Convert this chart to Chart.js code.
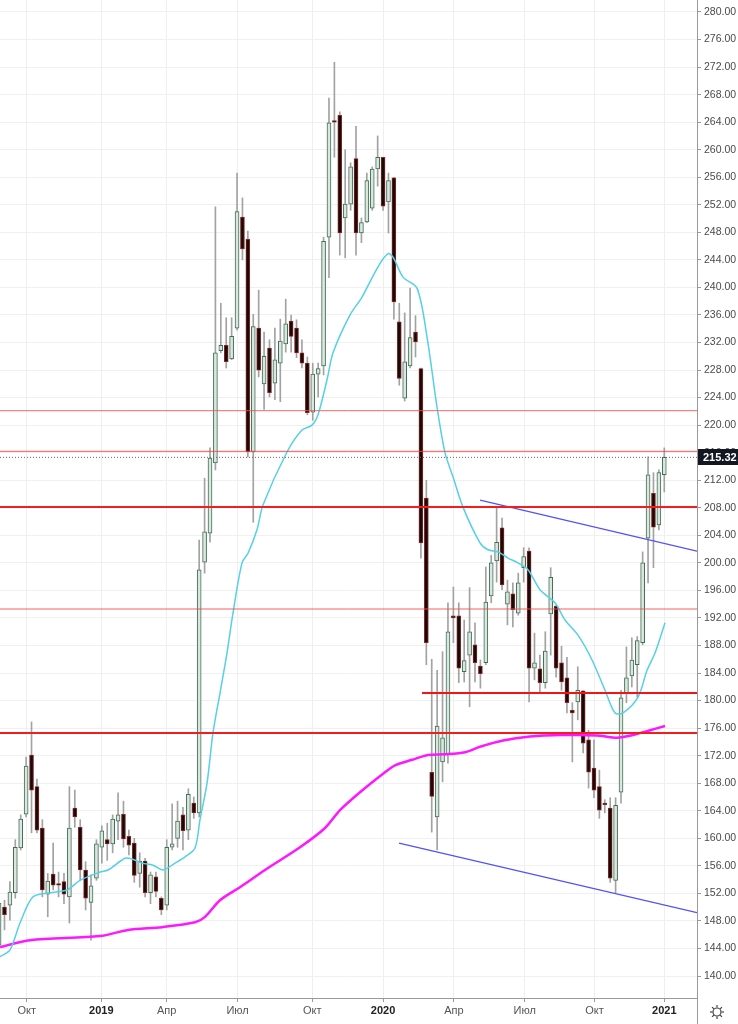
<!DOCTYPE html>
<html><head><meta charset="utf-8">
<script src="https://cdn.jsdelivr.net/npm/chart.js@4.4.1/dist/chart.umd.min.js"></script>
<style>html,body{margin:0;padding:0;background:#fff;overflow:hidden}canvas{display:block}</style>
</head><body>
<canvas id="c" width="738" height="1024"></canvas>
<script>
// Weekly candles, index 0 = first (partially visible) week
const opens = [144.5,150.0,150.3,152.1,158.6,163.5,172.1,167.5,161.5,151.9,
154.8,153.4,153.7,151.5,164.4,161.6,155.4,150.7,154.2,158.7,
159.8,159.2,162.5,163.5,160.3,159.3,154.9,156.7,152.1,154.4,
151.3,150.3,158.7,160.0,163.4,161.2,165.1,163.7,200.1,204.3,
214.5,230.8,231.6,229.6,234.1,250.2,247.0,216.1,234.1,226.0,
231.2,226.1,229.0,231.8,235.1,234.1,230.5,229.0,221.9,227.4,
228.6,247.3,264.2,265.0,250.1,252.1,258.7,247.9,249.5,251.5,
257.2,258.9,252.4,255.9,235.0,223.9,228.6,233.5,228.2,209.4,
169.6,163.1,171.1,172.1,192.3,192.3,184.2,186.6,188.1,185.0,
185.5,195.2,200.3,205.1,194.0,195.5,192.7,199.3,201.7,184.7,
184.6,182.6,192.6,193.7,185.5,183.3,178.6,179.8,181.4,174.3,
170.2,167.5,165.1,164.4,153.9,166.7,181.1,183.6,185.2,188.4,
203.6,210.1,205.5,212.8];
const closes = [150.6,148.9,152.2,158.7,162.8,170.5,167.0,161.2,152.5,153.8,
153.2,153.2,151.9,161.5,163.1,155.4,151.3,153.1,159.2,161.1,
159.2,162.8,163.4,159.9,159.0,154.6,156.7,152.1,154.7,152.3,
149.6,158.7,159.2,162.5,161.1,166.4,163.7,199.0,204.5,215.2,
230.5,231.6,229.2,232.9,251.0,245.6,216.1,234.3,228.0,230.0,
224.7,229.5,232.2,234.7,232.9,230.5,229.0,221.8,227.4,228.2,
246.7,263.9,264.0,247.9,252.1,257.5,247.9,249.4,255.5,257.2,
258.9,251.8,255.5,237.9,226.8,229.2,232.7,232.1,202.9,188.4,
166.1,176.3,174.6,190.0,192.0,184.7,185.8,190.0,185.5,183.9,
194.3,200.0,203.0,196.8,195.8,193.2,197.1,200.9,184.7,185.5,
182.6,187.2,197.9,184.7,182.7,179.7,178.2,181.5,173.8,169.6,
167.0,164.1,164.9,154.2,164.8,180.4,183.3,185.9,188.7,200.0,
212.8,205.2,213.1,215.32];
const highs = [151.4,151.0,153.7,159.8,163.4,171.8,176.9,168.6,162.7,154.9,
159.3,155.1,154.9,167.5,167.0,162.7,156.6,154.7,159.8,161.8,
162.2,163.4,166.6,165.4,161.2,160.0,157.9,157.1,155.1,155.1,
151.5,159.8,165.0,165.4,164.5,167.2,166.0,203.3,212.3,216.7,
251.7,237.7,235.6,235.6,256.6,253.0,248.2,236.1,239.6,233.5,
232.4,234.1,235.4,238.3,236.0,235.3,232.4,229.9,229.0,229.0,
247.3,267.5,272.7,265.5,260.0,258.1,263.4,250.1,256.6,257.5,
262.0,258.9,256.6,256.0,237.7,236.3,239.9,235.9,228.3,212.0,
186.0,184.4,187.1,194.2,196.5,194.2,191.7,196.4,191.3,185.9,
199.4,201.1,208.1,206.5,197.5,197.1,198.5,202.2,202.2,189.8,
186.6,190.0,199.3,193.9,187.9,186.3,179.7,184.9,181.4,175.7,
174.3,169.9,165.6,165.9,165.9,181.5,187.8,189.1,189.3,201.6,
215.4,213.1,213.5,216.7];
const lows = [143.6,146.7,148.1,151.3,158.3,163.1,160.8,160.8,151.5,148.6,
152.5,151.5,150.5,147.7,161.6,153.9,149.6,145.2,153.9,156.4,
156.8,157.9,159.8,158.7,157.6,153.6,152.9,151.5,150.5,151.5,
148.9,149.6,158.3,158.7,158.3,159.8,162.9,163.1,198.5,203.0,
213.5,230.5,228.3,229.5,233.8,244.0,215.4,205.9,227.0,222.3,
224.1,223.7,223.4,230.6,230.6,229.8,228.3,221.5,220.7,224.1,
227.3,241.4,258.9,244.7,244.3,251.2,244.7,246.5,249.4,251.2,
254.7,251.2,247.9,235.4,225.8,223.5,228.3,229.9,200.7,185.2,
160.9,158.3,168.2,170.9,188.4,182.6,182.7,179.1,182.7,181.8,
185.2,194.2,197.2,196.1,191.0,190.7,192.4,197.2,179.8,183.0,
181.0,181.8,186.6,183.4,181.5,178.2,171.1,177.2,172.4,167.3,
165.9,162.9,163.7,153.6,152.1,165.1,179.7,182.0,180.5,188.1,
197.1,199.3,204.8,210.3];

// Moving averages (x = week index)
const cyanX = [0.17,2.02,3.87,6.27,9.41,12.56,14.96,18.66,20.14,23.28,24.58,26.43,28.46,30.31,32.53,34.38,36.23,37.15,38.45,39.55,40.85,42.14,43.25,44.92,46.03,47.69,48.80,53.24,56.01,57.86,58.97,60.64,61.75,64.89,67.11,70.07,71.92,72.85,74.69,77.28,79.13,80.98,82.45,83.93,85.78,88.93,90.40,92.25,94.10,95.95,97.80,100.02,102.79,104.64,107.05,109.64,112.04,113.89,115.37,118.15,119.81,121.29,123.14];
const cyanY = [142.8,143.8,147.7,151.5,152.1,152.5,153.9,155.1,155.4,157.1,157.0,156.4,156.1,155.4,156.4,157.3,158.6,162.7,168.0,175.3,181.1,186.9,192.7,200.0,201.4,204.8,208.4,216.1,219.3,220.0,221.5,226.6,230.5,236.0,238.6,243.0,244.9,244.4,241.5,239.9,232.8,222.6,216.0,212.5,208.1,202.9,201.9,201.6,200.7,200.0,199.0,196.1,194.2,191.7,189.5,185.9,181.5,178.2,178.2,180.5,184.4,186.9,191.3];
const magentaX = [0.17,5.72,18.66,23.84,30.12,36.23,38.08,40.85,44.55,49.17,55.64,60.27,63.04,66.74,71.36,73.21,76.35,79.31,82.45,86.15,88.93,92.62,96.32,100.02,103.72,107.42,111.12,114.26,117.22,120.36,123.14];
const magentaY = [144.2,145.2,145.8,146.7,147.1,147.8,148.6,151.0,152.9,155.4,158.7,161.5,164.1,166.7,169.6,170.6,171.4,172.1,172.2,172.5,173.3,174.1,174.6,174.9,175.0,175.0,174.9,174.6,175.0,175.7,176.3];

// Horizontal levels and channel lines
const hLevels = [222.1, 216.2, 208.1, 193.3, 181.1, 175.3];
const hStart  = [0.17, 0.17, 0.17, 0.17, 78.2, 0.17];
const upperChanX = [88.93, 129.05], upperChanY = [209.1, 201.7];
const lowerChanX = [73.95, 129.05], lowerChanY = [159.3, 149.2];

// Axis ticks
const xTickPos = [5.1, 18.9, 31.0, 44.1, 57.9, 71.0, 84.1, 97.2, 110.1, 123.0];
const xTickLabels = ['Окт','2019','Апр','Июл','Окт','2020','Апр','Июл','Окт','2021'];
const yTickVals = [140,144,148,152,156,160,164,168,172,176,180,184,188,192,196,200,204,208,212,216,220,224,228,232,236,240,244,248,252,256,260,264,268,272,276,280];

const X_MIN = 0.17, X_MAX = 129.05, Y_MIN = 136.81, Y_MAX = 281.74;
const FONT = "'Liberation Sans', Arial, sans-serif";
const lastClose = closes[closes.length - 1];
const weekIdx = opens.map((_, i) => i);
const isUp = i => closes[i] >= opens[i];

const datasets = [];
const hStyle = [
  {c:'rgba(240,80,80,0.85)', w:1}, {c:'rgba(240,70,70,0.9)', w:1}, {c:'#f21d1d', w:2},
  {c:'rgba(240,80,80,0.9)', w:1}, {c:'#f41414', w:2}, {c:'#f21d1d', w:2}
];
hLevels.forEach((lv, k) => datasets.push({
  type:'line', data:[{x:hStart[k], y:lv},{x:X_MAX, y:lv}],
  borderColor:hStyle[k].c, borderWidth:hStyle[k].w, pointRadius:0, order:0
}));
datasets.push({type:'line', data:upperChanX.map((x,i)=>({x, y:upperChanY[i]})), borderColor:'#5252f5', borderWidth:1.3, pointRadius:0, order:0});
datasets.push({type:'line', data:lowerChanX.map((x,i)=>({x, y:lowerChanY[i]})), borderColor:'#5252f5', borderWidth:1.3, pointRadius:0, order:0});
datasets.push({type:'line', data:[{x:X_MIN,y:lastClose},{x:X_MAX,y:lastClose}], borderColor:'#666', borderWidth:1, borderDash:[1,2], pointRadius:0, order:0});
datasets.push({type:'line', data:cyanX.map((x,i)=>({x, y:cyanY[i]})), borderColor:'#55d0e6', borderWidth:1.5, pointRadius:0, tension:0.3, order:1});
datasets.push({type:'line', data:magentaX.map((x,i)=>({x, y:magentaY[i]})), borderColor:'#ff17ff', borderWidth:2.5, pointRadius:0, tension:0.3, order:1});
datasets.push({type:'bar', data:weekIdx.map(i=>({x:i, y:[opens[i], closes[i]]})),
  backgroundColor: c => isUp(c.dataIndex) ? '#dbe6de' : '#1a0b0b',
  borderColor: c => isUp(c.dataIndex) ? '#3f6e55' : '#8a2626',
  borderWidth:1, borderSkipped:false, barThickness:4, grouped:false, minBarLength:1.5, order:4});
datasets.push({type:'bar', data:weekIdx.map(i=>({x:i, y:[lows[i], highs[i]]})),
  backgroundColor:'#a2a2a2', barThickness:1, grouped:false, order:5});

const extras = {
  id:'extras',
  afterDraw(chart){
    const ctx = chart.ctx, ca = chart.chartArea, ys = chart.scales.y;
    ctx.save();
    ctx.strokeStyle = '#9a9a9a'; ctx.lineWidth = 1;
    ctx.beginPath(); ctx.moveTo(ca.right + 0.5, 0); ctx.lineTo(ca.right + 0.5, 1024); ctx.stroke();
    const y = ys.getPixelForValue(lastClose);
    ctx.fillStyle = '#131722';
    ctx.fillRect(ca.right + 1, Math.round(y) - 8, 738 - ca.right - 1, 16);
    ctx.fillStyle = '#ffffff';
    ctx.font = 'bold 11px ' + FONT;
    ctx.textBaseline = 'middle'; ctx.textAlign = 'left';
    ctx.fillText(lastClose.toFixed(2), ca.right + 6, Math.round(y) + 0.5);
    const gx = 717, gy = 1012;
    ctx.strokeStyle = '#444'; ctx.lineWidth = 1.2;
    ctx.beginPath(); ctx.arc(gx, gy, 4, 0, Math.PI*2); ctx.stroke();
    for (let k = 0; k < 8; k++) {
      const a = k * Math.PI / 4;
      ctx.beginPath();
      ctx.moveTo(gx + Math.cos(a)*4.5, gy + Math.sin(a)*4.5);
      ctx.lineTo(gx + Math.cos(a)*7, gy + Math.sin(a)*7);
      ctx.stroke();
    }
    ctx.restore();
  }
};

new Chart(document.getElementById('c'), {
  type:'bar',
  data:{datasets},
  options:{
    responsive:false, animation:false, events:[],
    layout:{padding:0},
    plugins:{legend:{display:false}, tooltip:{enabled:false}},
    scales:{
      x:{
        type:'linear', position:'bottom', min:X_MIN, max:X_MAX, offset:false,
        afterBuildTicks: s => { s.ticks = xTickPos.map(v => ({value:v})); },
        afterFit: s => { s.height = 26; s.paddingLeft = 0; s.paddingRight = 0; },
        grid:{color:'#efefef', tickColor:'#999', tickLength:4, drawOnChartArea:true, offset:false},
        border:{display:true, color:'#9a9a9a'},
        ticks:{
          autoSkip:false, maxRotation:0, padding:2,
          callback:(v, i) => xTickLabels[i],
          color: c => /^\d/.test(xTickLabels[c.index] || '') ? '#222' : '#555',
          font: c => ({family:FONT, size:11, weight: /^\d/.test(xTickLabels[c.index] || '') ? 'bold' : 'normal'})
        }
      },
      y:{
        type:'linear', position:'right', min:Y_MIN, max:Y_MAX,
        afterBuildTicks: s => { s.ticks = yTickVals.map(v => ({value:v})); },
        afterFit: s => { s.width = 41; s.paddingTop = 0; s.paddingBottom = 0; },
        grid:{color:'#f0f0f0', tickColor:'#999', tickLength:4, offset:false},
        border:{display:true, color:'#9a9a9a'},
        ticks:{padding:3, color:'#4a4a4a', font:{family:FONT, size:10.5},
          callback: v => Number(v).toFixed(2)}
      }
    }
  },
  plugins:[extras]
});
</script>
</body></html>
